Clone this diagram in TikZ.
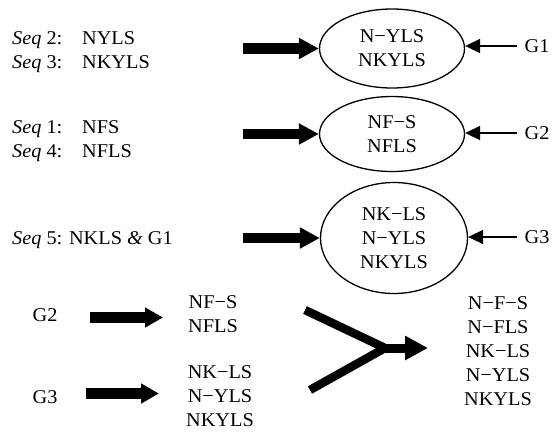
\documentclass[tikz,border=0pt]{standalone}
\usepackage{fontspec}
\setmainfont{Liberation Serif}[FakeStretch=1.04]
\usetikzlibrary{arrows.meta,shapes.geometric}
\begin{document}
\begin{tikzpicture}[x=1pt,y=-1pt,
  every node/.style={font=\fontsize{19.5}{24}\selectfont, inner sep=0pt},
  txt/.style={anchor=base west},
  ell/.style={draw, ellipse, line width=1.3pt, align=center, minimum width=145pt},
  bigarrow/.style={line width=10.5pt, -{Triangle[length=20pt,width=20pt]}},
  midarrow/.style={line width=11pt, -{Triangle[length=18pt,width=19pt]}},
  thinarrow/.style={line width=1.6pt, -{Triangle[length=15pt,width=14pt]}},
  yline/.style={line width=8.5pt}
]
\useasboundingbox (0,0) rectangle (556,432);

% left sequence labels
\node[txt] (s2) at (12,44) {\textit{Seq} 2:};
\node[txt] (s2v) at (82,44) {NYLS};
\node[txt] (s3) at (12,68) {\textit{Seq} 3:};
\node[txt] (s3v) at (82,68) {NKYLS};
\node[txt] (s1) at (12,133) {\textit{Seq} 1:};
\node[txt] (s1v) at (82,133) {NFS};
\node[txt] (s4) at (12,157) {\textit{Seq} 4:};
\node[txt] (s4v) at (82,157) {NFLS};
\node[txt] (s5) at (12,244) {\textit{Seq} 5: NKLS \textit{\&} G1};

% ellipses
\node[ell, minimum height=79pt] (e1) at (392,48.5) {N−YLS\\NKYLS};
\node[ell, minimum height=75pt] (e2) at (392,134) {NF−S\\NFLS};
\node[ell, minimum width=147pt, minimum height=111pt] (e3) at (394,238) {NK−LS\\N−YLS\\NKYLS};

% big arrows into ellipses
\coordinate (t1) at (243,48.5);
\coordinate (t2) at (243,134);
\coordinate (t3) at (243,238);
\draw[bigarrow] (t1) -- (t1 -| e1.west);
\draw[bigarrow] (t2) -- (t2 -| e2.west);
\draw[bigarrow] (t3) -- (t3 -| e3.west);

% G labels and thin arrows
\node (g1) at (537,46) {G1};
\node (g2) at (537,133) {G2};
\node (g3) at (537,237) {G3};
\coordinate (u1) at (517,46);
\coordinate (u2) at (517,133);
\coordinate (u3) at (517,237);
\draw[thinarrow] (u1) -- (u1 -| e1.east);
\draw[thinarrow] (u2) -- (u2 -| e2.east);
\draw[thinarrow] (u3) -- (u3 -| e3.east);

% bottom part
\node (g2b) at (45,315) {G2};
\node (g3b) at (45,397) {G3};
\node[align=center] (b2) at (213,314.5) {NF−S\\NFLS};
\node[align=center] (b3) at (220,396.5) {NK−LS\\N−YLS\\NKYLS};
\node[align=center] (res) at (498,351.5) {N−F−S\\N−FLS\\NK−LS\\N−YLS\\NKYLS};

\coordinate (a4s) at (90,317.5);
\coordinate (a4e) at (163,317.5);
\coordinate (a5s) at (86,393.5);
\coordinate (a5e) at (159,393.5);
\draw[midarrow] (a4s) -- (a4e);
\draw[midarrow] (a5s) -- (a5e);

\coordinate (y1) at (305,310);
\coordinate (y2) at (310,390);
\coordinate (yj) at (385,348);
\coordinate (ys) at (379,348);
\coordinate (ye) at (428,348);
\draw[yline] (y1) -- (yj);
\draw[yline] (y2) -- (yj);
\draw[line width=9pt, -{Triangle[length=23pt,width=23pt]}] (ys) -- (ye);
\end{tikzpicture}
\end{document}
